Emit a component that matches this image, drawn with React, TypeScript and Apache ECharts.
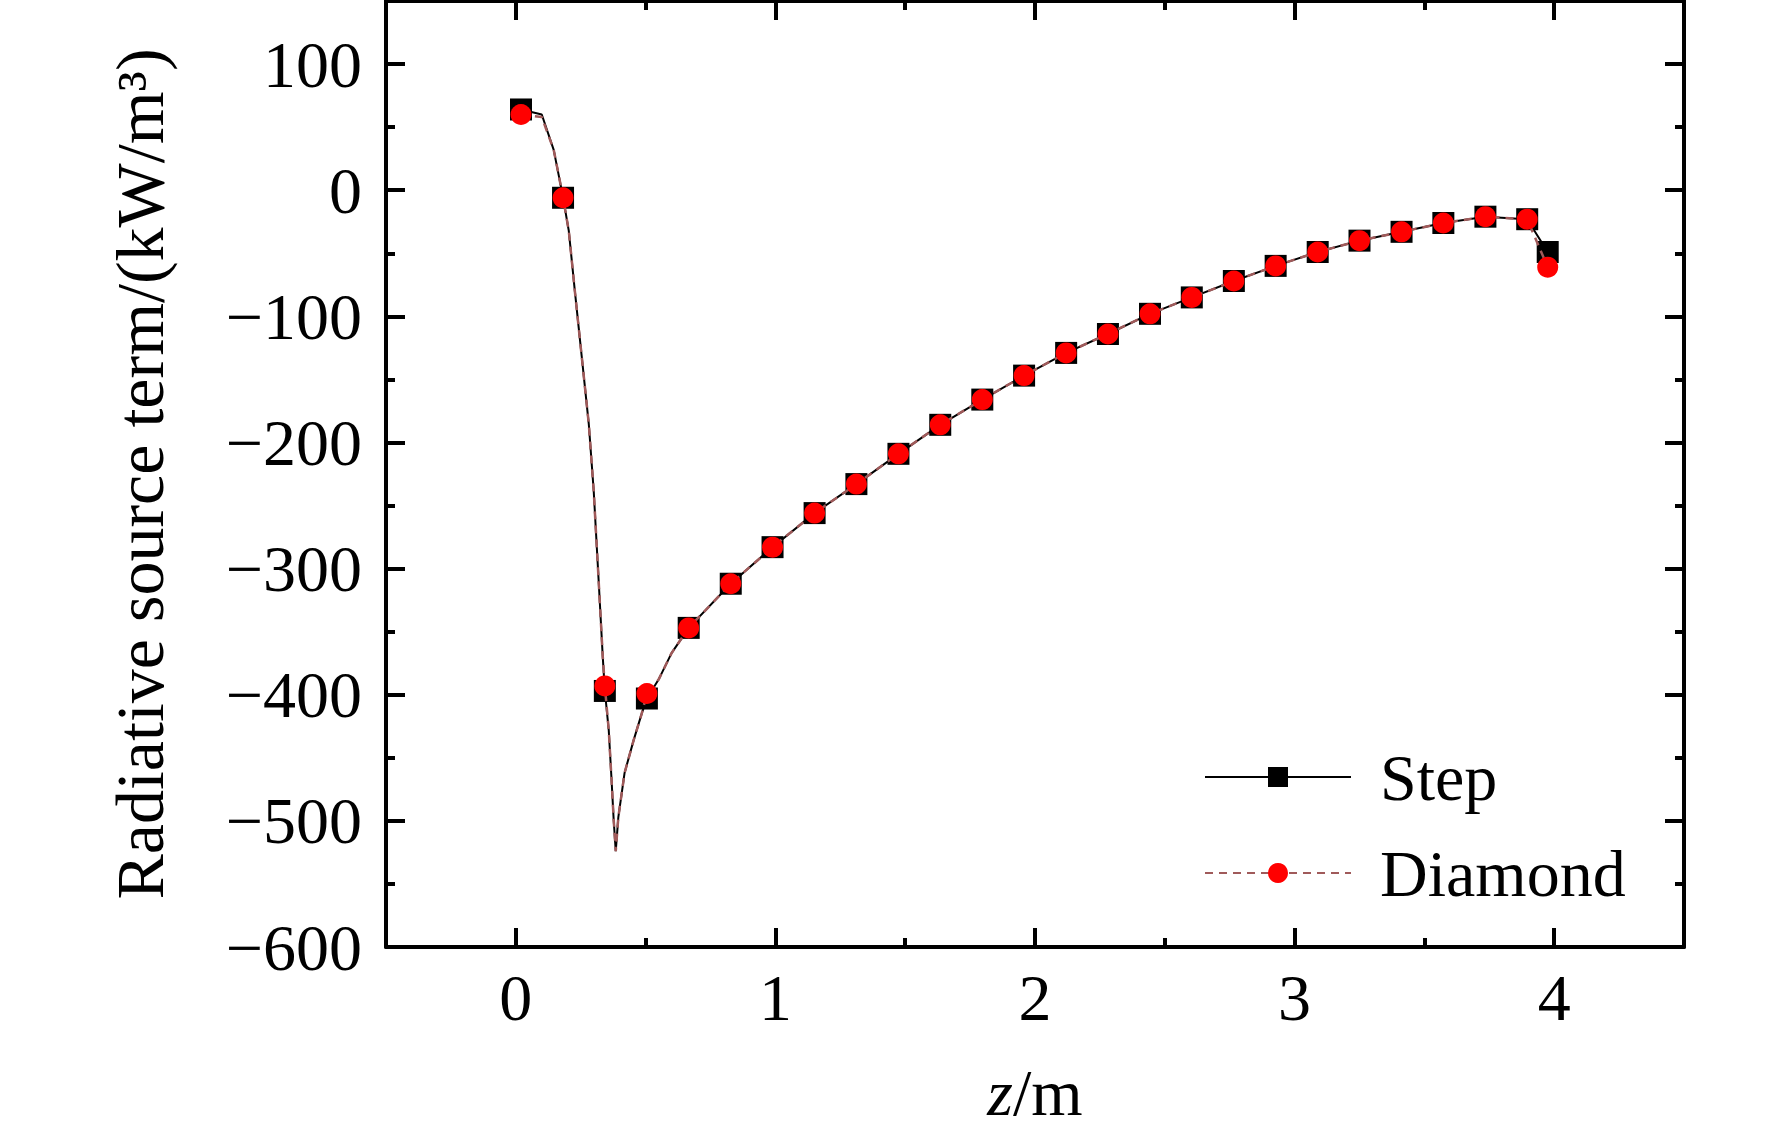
import React, { useEffect, useRef } from "react";
import * as echarts from "echarts";

// z positions of the drawn curve (m)
const curveX = [
  0.02, 0.1, 0.146, 0.169, 0.182, 0.204, 0.227, 0.254, 0.281, 0.3,
  0.319, 0.335, 0.343, 0.358, 0.369, 0.377, 0.385, 0.395, 0.419, 0.454,
  0.485, 0.505, 0.55, 0.6, 0.666, 0.828, 0.989, 1.151, 1.312, 1.474,
  1.635, 1.797, 1.958, 2.12, 2.281, 2.443, 2.604, 2.766, 2.927, 3.089,
  3.25, 3.412, 3.573, 3.735, 3.896, 3.975,
];
// Step method radiative source term (kW/m3)
const stepY = [
  64, 60, 32, 8, -6, -32, -79, -132, -185, -238,
  -309, -370, -397, -428, -468, -499, -524, -497, -462, -436,
  -415, -403, -388, -367, -347, -312, -283, -256, -233, -209,
  -186, -166, -147, -129, -114, -98, -85, -72, -60, -49,
  -40, -33, -26, -21, -23, -49,
];
// Diamond method radiative source term (kW/m3)
const diamondY = [
  60, 58, 32, 8, -6, -32, -79, -132, -185, -238,
  -309, -370, -393, -428, -468, -499, -524, -497, -462, -436,
  -415, -399, -388, -367, -347, -312, -283, -256, -233, -209,
  -186, -166, -147, -129, -114, -98, -85, -72, -60, -49,
  -40, -33, -26, -21, -23, -61,
];
// indices of curve points that carry a marker
const markerIdx = [
  0, 4, 12, 21, 24, 25, 26, 27, 28, 29, 30, 31, 32, 33, 34, 35, 36, 37, 38,
  39, 40, 41, 42, 43, 44, 45,
];

const xMajor = [0, 1, 2, 3, 4];
const xMinor = [0.5, 1.5, 2.5, 3.5];
const yMajor = [-600, -500, -400, -300, -200, -100, 0, 100];
const yMinor = [-550, -450, -350, -250, -150, -50, 50];

const seriesNames = ["Step", "Diamond"];
const FONT = "'Liberation Serif', 'Times New Roman', serif";
const FS = 66;

function buildData(ys: number[]) {
  return curveX.map((x, i) =>
    markerIdx.includes(i) ? { value: [x, ys[i]] } : { value: [x, ys[i]], symbol: "none" }
  );
}

export default function App() {
  const ref = useRef<HTMLDivElement>(null);
  useEffect(() => {
    if (!ref.current) return;
    const chart = echarts.init(ref.current, undefined, { renderer: "svg" });
    const axisLineStyle = { color: "#000", width: 4 };
    const xBase = {
      type: "value",
      min: -0.5,
      max: 4.5,
      splitLine: { show: false },
    };
    const yBase = {
      type: "value",
      min: -600,
      max: 150,
      splitLine: { show: false },
    };
    const fmt = (v: number) => String(v).replace("-", "\u2212");
    chart.setOption({
      animation: false,
      backgroundColor: "#fff",
      grid: { left: 386, right: 88, top: 1, bottom: 189, containLabel: false },
      legend: {
        data: seriesNames,
        orient: "vertical",
        left: 1199,
        top: 739,
        itemWidth: 146,
        itemHeight: 25,
        itemGap: 30,
        textStyle: {
          fontFamily: FONT,
          fontSize: FS,
          lineHeight: 66,
          color: "#000",
          padding: [0, 0, 0, 24],
        },
      },
      xAxis: [
        {
          ...xBase,
          position: "bottom",
          axisLine: { onZero: false, lineStyle: axisLineStyle },
          axisTick: { inside: true, length: 19, lineStyle: { width: 4, color: "#000" }, customValues: xMajor },
          axisLabel: {
            customValues: xMajor,
            margin: 17,
            fontFamily: FONT,
            fontSize: FS,
            color: "#000",
          },
          name: "{i|z}{n|/m}",
          nameLocation: "middle",
          nameGap: 112,
          nameTextStyle: {
            fontFamily: FONT,
            fontSize: FS,
            color: "#000",
            rich: {
              i: { fontFamily: FONT, fontSize: FS, fontStyle: "italic", color: "#000" },
              n: { fontFamily: FONT, fontSize: FS, fontStyle: "normal", color: "#000" },
            },
          },
        },
        {
          ...xBase,
          position: "bottom",
          axisLine: { show: false, onZero: false },
          axisTick: { inside: true, length: 9, lineStyle: { width: 4, color: "#000" }, customValues: xMinor },
          axisLabel: { show: false },
        },
        {
          ...xBase,
          position: "top",
          axisLine: { onZero: false, lineStyle: axisLineStyle },
          axisTick: { inside: true, length: 19, lineStyle: { width: 4, color: "#000" }, customValues: xMajor },
          axisLabel: { show: false },
        },
        {
          ...xBase,
          position: "top",
          axisLine: { show: false, onZero: false },
          axisTick: { inside: true, length: 9, lineStyle: { width: 4, color: "#000" }, customValues: xMinor },
          axisLabel: { show: false },
        },
      ],
      yAxis: [
        {
          ...yBase,
          position: "left",
          axisLine: { onZero: false, lineStyle: axisLineStyle },
          axisTick: { inside: true, length: 19, lineStyle: { width: 4, color: "#000" }, customValues: yMajor },
          axisLabel: {
            customValues: yMajor,
            margin: 24,
            fontFamily: FONT,
            fontSize: FS,
            color: "#000",
            formatter: fmt,
          },
          name: "Radiative source term/(kW/m\u00b3)",
          nameLocation: "middle",
          nameRotate: 90,
          nameGap: 212,
          nameTextStyle: { fontFamily: FONT, fontSize: 68, color: "#000" },
        },
        {
          ...yBase,
          position: "left",
          axisLine: { show: false, onZero: false },
          axisTick: { inside: true, length: 9, lineStyle: { width: 4, color: "#000" }, customValues: yMinor },
          axisLabel: { show: false },
        },
        {
          ...yBase,
          position: "right",
          axisLine: { onZero: false, lineStyle: axisLineStyle },
          axisTick: { inside: true, length: 19, lineStyle: { width: 4, color: "#000" }, customValues: yMajor },
          axisLabel: { show: false },
        },
        {
          ...yBase,
          position: "right",
          axisLine: { show: false, onZero: false },
          axisTick: { inside: true, length: 9, lineStyle: { width: 4, color: "#000" }, customValues: yMinor },
          axisLabel: { show: false },
        },
      ],
      series: [
        {
          name: seriesNames[0],
          type: "line",
          xAxisIndex: 0,
          yAxisIndex: 0,
          data: buildData(stepY),
          symbol: "rect",
          symbolSize: 22,
          itemStyle: { color: "#000" },
          lineStyle: { color: "#000", width: 2 },
          z: 2,
        },
        {
          name: seriesNames[1],
          type: "line",
          xAxisIndex: 0,
          yAxisIndex: 0,
          data: buildData(diamondY),
          symbol: "circle",
          symbolSize: 21,
          itemStyle: { color: "#ff0000" },
          lineStyle: { color: "#a05a5a", width: 2.5, type: [8, 6] },
          z: 3,
        },
      ],
    });
    return () => chart.dispose();
  }, []);
  return (
    <div
      ref={ref}
      style={{ position: "absolute", left: 0, top: 0, width: 1772, height: 1136 }}
    />
  );
}
